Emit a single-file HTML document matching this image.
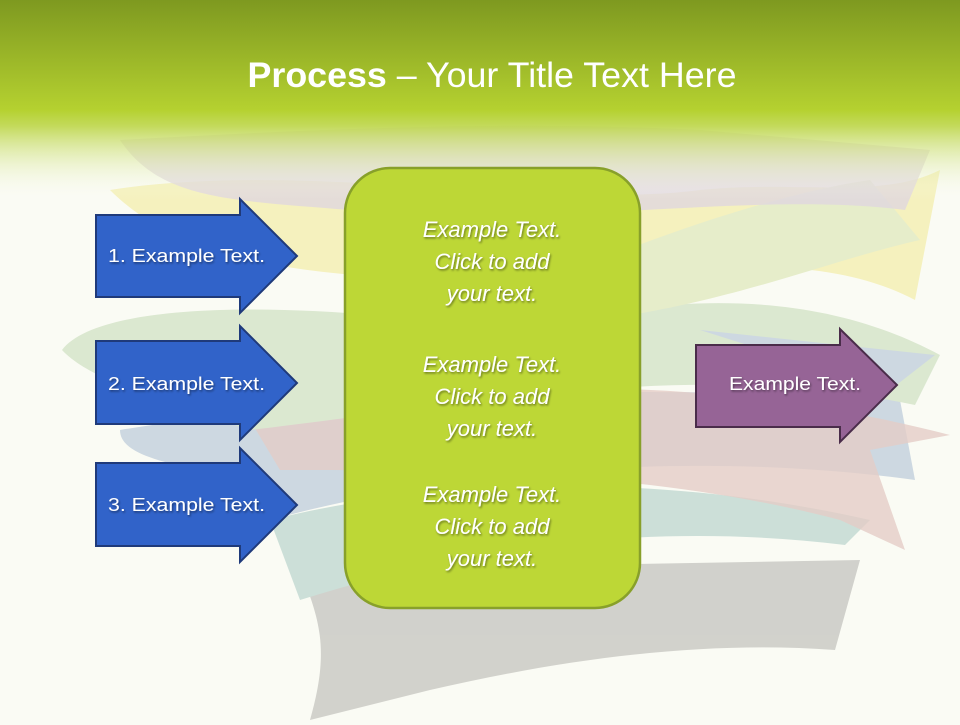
<!DOCTYPE html>
<html><head><meta charset="utf-8"><style>
html,body{margin:0;padding:0}
body{width:960px;height:720px;overflow:hidden;background:#fafbf4;font-family:"Liberation Sans",sans-serif}
</style></head><body>
<svg width="960" height="720" viewBox="0 0 960 720" xmlns="http://www.w3.org/2000/svg">
<defs>
<linearGradient id="hdr" x1="0" y1="0" x2="0" y2="1">
<stop offset="0" stop-color="#7e9920"/>
<stop offset="0.55" stop-color="#b5d130"/>
<stop offset="0.63" stop-color="#bdd64a" stop-opacity="0.9"/>
<stop offset="1" stop-color="#fafbf4" stop-opacity="0"/>
</linearGradient>
<filter id="ts"><feDropShadow dx="1" dy="1.5" stdDeviation="1" flood-color="#000" flood-opacity="0.45"/></filter>
</defs>
<rect width="960" height="720" fill="#fafbf4"/>
<g opacity="0.9">
<path d="M310 720 C330 650 320 620 300 570 L860 560 L835 650 C700 640 560 660 430 690 Z" fill="#cdcdc8"/>
<path d="M270 520 C430 480 650 470 870 520 L845 545 C640 520 460 550 300 600 Z" fill="#c8ddd6"/>
<path d="M120 430 C300 400 600 380 900 400 L915 480 C700 450 450 470 270 520 L200 470 C150 460 120 450 120 430Z" fill="#c9d5df"/>
<path d="M250 420 C450 380 700 370 950 435 L870 450 L905 550 L840 520 C650 470 450 470 280 470Z" fill="#e2c8c2" opacity="0.8"/>
<path d="M62 350 C100 300 300 300 500 330 C650 300 800 280 940 355 L915 405 C700 360 500 400 250 430 C160 400 90 380 62 350Z" fill="#d8e6cd"/>
<path d="M110 190 C300 160 550 210 700 190 C800 180 880 200 940 170 L915 300 C800 240 650 280 500 280 C300 280 180 260 110 190Z" fill="#f5f0b9"/>
<path d="M600 260 C700 220 800 190 870 180 L920 240 C830 260 740 300 600 320 Z" fill="#e4ecc6"/>
<path d="M120 140 C300 130 500 120 700 130 L930 150 L905 210 C750 190 550 230 350 210 C230 200 160 200 120 140Z" fill="#ddd3dd" opacity="0.8"/>
<path d="M700 330 L935 355 L890 390 Z" fill="#c9d5df"/>
</g>
<rect width="960" height="200" fill="url(#hdr)"/>
<text x="492" y="87" text-anchor="middle" font-family="'Liberation Sans',sans-serif" font-size="35" textLength="489" lengthAdjust="spacingAndGlyphs" fill="#fff"><tspan font-weight="bold">Process</tspan> – Your Title Text Here</text>
<g fill="#3163c9" stroke="#1f3a7a" stroke-width="2">
<path d="M96 215 H240 V199 L297 256 L240 313 V297 H96 Z"/>
<path d="M96 341 H240 V326 L297 383 L240 440 V424 H96 Z"/>
<path d="M96 463 H240 V448 L297 505 L240 562 V546 H96 Z"/>
</g>
<path d="M696 345 H840 V329 L897 385 L840 442 V427 H696 Z" fill="#966496" stroke="#4a2c4a" stroke-width="2"/>
<g font-size="18" fill="#fff" filter="url(#ts)">
<text x="108" y="262" textLength="157" lengthAdjust="spacingAndGlyphs">1. Example Text.</text>
<text x="108" y="390" textLength="157" lengthAdjust="spacingAndGlyphs">2. Example Text.</text>
<text x="108" y="511" textLength="157" lengthAdjust="spacingAndGlyphs">3. Example Text.</text>
<text x="729" y="390" textLength="132" lengthAdjust="spacingAndGlyphs">Example Text.</text>
</g>
<rect x="345" y="168" width="295" height="440" rx="45" fill="#bdd736" stroke="#88a02a" stroke-width="2.5"/>
<g font-size="22" font-style="italic" fill="#fff" text-anchor="middle" filter="url(#ts)">
<text x="492" y="237">Example Text.</text>
<text x="492" y="269">Click  to add</text>
<text x="492" y="301">your text.</text>
<text x="492" y="372">Example Text.</text>
<text x="492" y="404">Click  to add</text>
<text x="492" y="436">your text.</text>
<text x="492" y="502">Example Text.</text>
<text x="492" y="534">Click  to add</text>
<text x="492" y="566">your text.</text>
</g>
</svg>
</body></html>
